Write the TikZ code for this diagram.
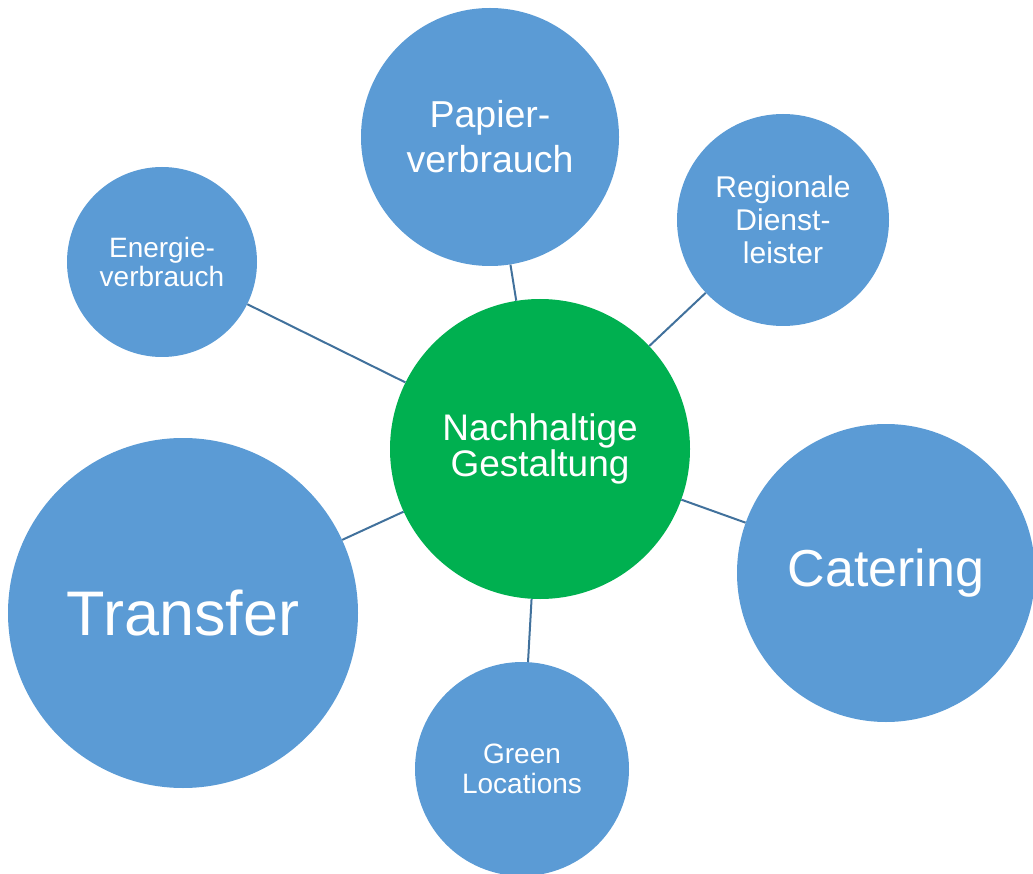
\documentclass[tikz,border=0pt]{standalone}
\usepackage{fontspec}
\setmainfont{Liberation Sans}
\definecolor{bubbleblue}{RGB}{91, 155, 213}
\definecolor{hubgreen}{RGB}{0, 176, 80}
\definecolor{linkblue}{RGB}{65, 113, 156}
\usetikzlibrary{positioning}

\tikzset{
  bubble/.style={circle, fill=bubbleblue, text=white, inner sep=0pt, align=center},
  hub/.style={circle, fill=hubgreen, text=white, inner sep=0pt, align=center},
  link/.style={draw=linkblue, line width=2pt}
}

\begin{document}
\begin{tikzpicture}[x=1pt, y=-1pt]
  \useasboundingbox (0,0) rectangle (1033,874);

  % Hub in the middle
  \node[hub, minimum size=300pt, font=\fontsize{37}{34}\selectfont] (hub) at (540, 449) {Nachhaltige\\Gestaltung};

  % Outer bubbles
  \node[bubble, minimum size=258pt, font=\fontsize{37.5}{45}\selectfont] (papier) at (490, 137) {Papier-\\verbrauch};
  \node[bubble, minimum size=212pt, font=\fontsize{30}{33}\selectfont] (regional) at (783, 220) {Regionale\\Dienst-\\leister};
  \node[bubble, minimum size=190pt, font=\fontsize{28}{29}\selectfont] (energie) at (162, 262) {Energie-\\verbrauch};
  \node[bubble, minimum size=350pt, font=\fontsize{63}{70}\selectfont] (transfer) at (183, 613) {Transfer};
  \node[bubble, minimum size=298pt, font=\fontsize{52}{60}\selectfont] (catering) at (886, 573) {Catering};
  \node[bubble, minimum size=214pt, font=\fontsize{28}{30}\selectfont] (green) at (522, 769) {Green\\Locations};

  % Links from the hub
  \draw[link] (hub) -- (papier);
  \draw[link] (hub) -- (regional);
  \draw[link] (hub) -- (energie);
  \draw[link] (hub) -- (transfer);
  \draw[link] (hub) -- (catering);
  \draw[link] (hub) -- (green);
\end{tikzpicture}
\end{document}
